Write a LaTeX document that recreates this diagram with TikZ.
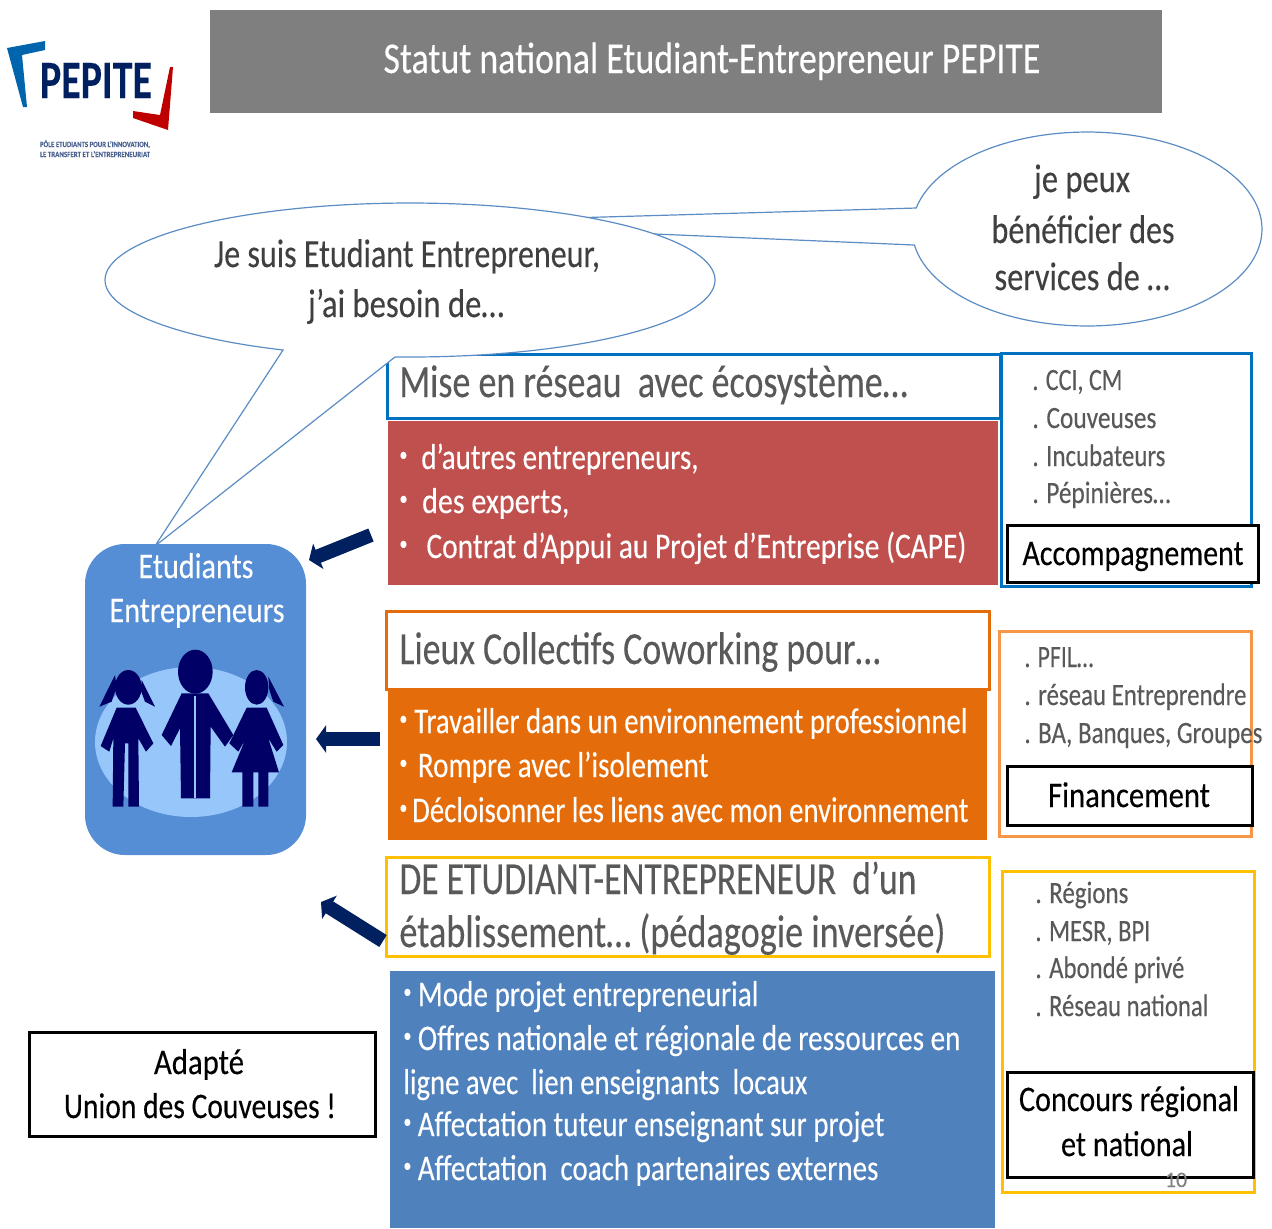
\documentclass[tikz,border=0pt]{standalone}
\usepackage{fontspec}
\setmainfont{Carlito}[FakeBold=0.25]
\usepackage{graphicx}
\usepackage{xcolor}
\usetikzlibrary{arrows.meta}
\definecolor{titlegray}{HTML}{7F7F7F}
\definecolor{textgray}{HTML}{595959}
\definecolor{bubbletext}{HTML}{404040}
\definecolor{bubbleline}{HTML}{5B8CC4}
\definecolor{netblue}{HTML}{0070C0}
\definecolor{netred}{HTML}{C0504D}
\definecolor{workorange}{HTML}{E46C0A}
\definecolor{lightorange}{HTML}{F79646}
\definecolor{classyellow}{HTML}{FFC000}
\definecolor{classblue}{HTML}{4F81BD}
\definecolor{groupblue}{HTML}{558ED5}
\definecolor{discblue}{HTML}{97C6FB}
\definecolor{figurenavy}{HTML}{000066}
\definecolor{arrownavy}{HTML}{002060}
% squeeze a text to a width given in pixels, keeping its height
\newcommand{\fitw}[2]{\resizebox{\dimexpr #1pt/2\relax}{\height}{#2}}
\newcommand{\smallbullet}{\raisebox{4pt}{\fontsize{10}{10}\selectfont •}}
\tikzset{
  title/.style={anchor=base,inner sep=0pt,text=white,font=\fontsize{22}{24}\selectfont},
  heading/.style={anchor=base west,inner sep=0pt,text=textgray,font=\fontsize{23}{25}\selectfont},
  listtext/.style={anchor=base west,inner sep=0pt,text=white,font=\fontsize{18}{20}\selectfont},
  sidetext/.style={anchor=base west,inner sep=0pt,text=textgray,font=\fontsize{15.5}{18}\selectfont},
  labeltext/.style={anchor=base,inner sep=0pt,text=black,font=\fontsize{18}{20}\selectfont},
  bubbletxt/.style={anchor=base,inner sep=0pt,text=bubbletext,font=\fontsize{20}{22}\selectfont},
  bubble/.style={draw=bubbleline,fill=white,line width=0.6pt},
  framebox/.style={fill=white,line width=1.5pt},
  blackbox/.style={draw=black,fill=white,line width=1.5pt},
  bigarrow/.style={draw=arrownavy,line width=7pt,-{Triangle[length=5pt,width=13.5pt]}},
}
\begin{document}
\begin{tikzpicture}[x=0.5pt,y=-0.5pt]
\useasboundingbox (0,0) rectangle (1272,1228);
%%%LOGO
\fill[netblue!90!black] (7,48) -- (45,41) -- (45,50) -- (22,55) -- (27,107) -- (23,107) -- cycle;
\fill[red!75!black] (170,67) -- (173,67) -- (168,130) -- (133,118) -- (133,111) -- (160,115) -- cycle;
\node[anchor=base,inner sep=0pt,text=arrownavy,font=\fontsize{27}{29}\selectfont\bfseries] (logo) at (96,98) {\fitw{112}{PEPITE}};
\node[anchor=base,inner sep=0pt,text=arrownavy!70,font=\fontsize{4}{5}\selectfont\bfseries] (logoa) at (95,147) {\fitw{110}{PÔLE ETUDIANTS POUR L’INNOVATION,}};
\node[anchor=base,inner sep=0pt,text=arrownavy!70,font=\fontsize{4}{5}\selectfont\bfseries] (logob) at (95,157) {\fitw{110}{LE TRANSFERT ET L’ENTREPRENEURIAT}};
%%%TITLE
\fill[titlegray] (210,10) rectangle (1162,113);
\node[title] (titletxt) at (712,73) {\fitw{657}{Statut national Etudiant-Entrepreneur PEPITE}};
%%%FRAME UNDER THE CALLOUT
\draw[framebox,draw=netblue] (387,354) rectangle (1000,418);
%%%CALLOUTS
\coordinate (tailright) at (395,223);
\coordinate (tailleft) at (155,546);
\draw[bubble] (tailright) -- plot[domain=192.5:530.5,samples=120] ({1087+175*cos(\x)},{229+97*sin(\x)}) -- cycle;
\draw[bubble] (tailleft) -- plot[domain=114.6:452.8,samples=160] ({410+305*cos(\x)},{280+77*sin(\x)}) -- cycle;
\node[bubbletxt] (je) at (407,267) {\fitw{386}{Je suis Etudiant Entrepreneur,}};
\node[bubbletxt] (jai) at (406,317) {\fitw{196}{j’ai besoin de…}};
\node[bubbletxt] (peux) at (1082,192) {\fitw{96}{je peux}};
\node[bubbletxt] (benef) at (1083,243) {\fitw{183}{bénéficier des}};
\node[bubbletxt] (serv) at (1082,290) {\fitw{175}{services de …}};
%%%RESEAU
\fill[netred] (388,421) rectangle (998,585);
\node[heading] (reseau) at (399,397) {\fitw{508}{Mise en réseau\ \ avec écosystème…}};
\node[listtext] (reseaua) at (399,469) {\fitw{299}{\smallbullet\hspace{0.48em}d’autres entrepreneurs,}};
\node[listtext] (reseaub) at (399,513) {\fitw{170}{\smallbullet\hspace{0.48em}des experts,}};
\node[listtext] (reseauc) at (399,558) {\fitw{567}{\smallbullet\hspace{0.64em}Contrat d’Appui au Projet d’Entreprise (CAPE)}};
\draw[framebox,draw=netblue] (1001,353) rectangle (1251,586);
\node[sidetext] (ccia) at (1032,390) {\fitw{90}{. CCI, CM}};
\node[sidetext] (ccib) at (1032,428) {\fitw{124}{. Couveuses}};
\node[sidetext] (ccic) at (1032,466) {\fitw{133}{. Incubateurs}};
\node[sidetext] (ccid) at (1032,503) {\fitw{138}{. Pépinières…}};
\node[blackbox,minimum width=125.5pt,minimum height=28.5pt,anchor=north west,inner sep=0pt] (accomp) at (1006,524) {};
\node[labeltext] (accomptxt) at (1133,565) {\fitw{221}{Accompagnement}};
%%%COWORKING
\fill[workorange] (388,689) rectangle (987,840);
\draw[framebox,draw=workorange] (386,611) rectangle (989,689);
\node[heading] (lieux) at (399,664) {\fitw{481}{Lieux Collectifs Coworking pour…}};
\node[listtext] (lieuxa) at (399,733) {\fitw{568}{\smallbullet\hspace{0.24em}Travailler dans un environnement professionnel}};
\node[listtext] (lieuxb) at (399,777) {\fitw{309}{\smallbullet\hspace{0.36em}Rompre avec l’isolement}};
\node[listtext] (lieuxc) at (399,822) {\fitw{569}{\smallbullet\hspace{0.17em}Décloisonner les liens avec mon environnement}};
\draw[framebox,draw=lightorange] (999,631) rectangle (1251,836);
\node[sidetext] (pfila) at (1024,667) {\fitw{69}{. PFIL…}};
\node[sidetext] (pfilb) at (1024,705) {\fitw{222}{. réseau Entreprendre}};
\node[sidetext] (pfilc) at (1024,743) {\fitw{238}{. BA, Banques, Groupes}};
\node[blackbox,minimum width=122.5pt,minimum height=29.5pt,anchor=north west,inner sep=0pt] (finance) at (1006,765) {};
\node[labeltext] (financetxt) at (1129,807) {\fitw{162}{Financement}};
%%%ETABLISSEMENT
\draw[framebox,draw=classyellow] (386,857) rectangle (989,956);
\node[heading] (etuda) at (399,894) {\fitw{517}{DE ETUDIANT-ENTREPRENEUR\ \ d’un}};
\node[heading] (etudb) at (399,947) {\fitw{546}{établissement… (pédagogie inversée)}};
\fill[classblue] (390,971) rectangle (995,1228);
\node[listtext] (moda) at (403,1006) {\fitw{355}{\smallbullet\hspace{0.22em}Mode projet entrepreneurial}};
\node[listtext] (modb) at (403,1050) {\fitw{557}{\smallbullet\hspace{0.22em}Offres nationale et régionale de ressources en}};
\node[listtext] (modc) at (403,1094) {\fitw{404}{ligne avec\ \ lien enseignants\ \ locaux}};
\node[listtext] (modd) at (403,1136) {\fitw{481}{\smallbullet\hspace{0.22em}Affectation tuteur enseignant sur projet}};
\node[listtext] (mode) at (403,1180) {\fitw{475}{\smallbullet\hspace{0.22em}Affectation\ \ coach partenaires externes}};
\draw[framebox,draw=classyellow] (1002,871) rectangle (1254,1192);
\node[sidetext] (rega) at (1035,903) {\fitw{93}{. Régions}};
\node[sidetext] (regb) at (1035,941) {\fitw{115}{. MESR, BPI}};
\node[sidetext] (regc) at (1035,978) {\fitw{149}{. Abondé privé}};
\node[sidetext] (regd) at (1035,1016) {\fitw{173}{. Réseau national}};
\node[blackbox,minimum width=123pt,minimum height=52.5pt,anchor=north west,inner sep=0pt] (concours) at (1006,1071) {};
\node[labeltext] (concoursa) at (1129,1111) {\fitw{220}{Concours régional}};
\node[labeltext] (concoursb) at (1127,1156) {\fitw{132}{et national}};
\node[anchor=base,inner sep=0pt,text=gray,font=\fontsize{11}{12}\selectfont] (pagenum) at (1176,1187) {10};
%%%ADAPTE
\node[blackbox,minimum width=173pt,minimum height=52pt,anchor=north west,inner sep=0pt] (adapte) at (28,1031) {};
\node[labeltext] (adaptea) at (199,1074) {\fitw{90}{Adapté}};
\node[labeltext] (adapteb) at (200,1118) {\fitw{272}{Union des Couveuses !}};
%%%STUDENTS
\fill[groupblue,rounded corners=20pt] (85,544) rectangle (306,855);
\node[anchor=base,inner sep=0pt,text=white,font=\fontsize{18}{20}\selectfont] (etudiants) at (196,578) {\fitw{115}{Etudiants}};
\node[anchor=base,inner sep=0pt,text=white,font=\fontsize{18}{20}\selectfont] (entrep) at (197,622) {\fitw{175}{Entrepreneurs}};
\fill[discblue] (191,742) ellipse [x radius=96pt/2,y radius=75pt/2];
\begin{scope}[shift={(70,530)},scale=1/3,figurenavy]
%left girl
\fill (175,472) ellipse [x radius=20pt,y radius=26pt];
\fill (135,435) -- (88,530) -- (125,515) -- (140,470) -- cycle;
\fill (215,450) -- (255,530) -- (225,515) -- (212,480) -- cycle;
\fill (140,533) -- (92,648) -- (118,665) -- (130,625) -- (128,830) -- (160,830) -- (165,640) -- (175,640) -- (175,830) -- (207,830) -- (205,625) -- (228,665) -- (250,640) -- (197,533) -- cycle;
%man
\fill (376,425) ellipse [x radius=26pt,y radius=33pt];
\fill (335,490) -- (415,490) -- (490,615) -- (465,650) -- (422,590) -- (420,805) -- (333,805) -- (330,595) -- (303,648) -- (275,615) -- cycle;
\draw[discblue,line width=1pt] (376,498) -- (376,805);
%right girl
\fill (560,472) ellipse [x radius=17.5pt,y radius=26pt];
\fill (595,440) -- (642,530) -- (610,515) -- (598,480) -- cycle;
\fill (530,533) -- (590,533) -- (640,645) -- (620,665) -- (595,625) -- (627,727) -- (595,727) -- (595,830) -- (565,830) -- (565,727) -- (550,727) -- (550,830) -- (517,830) -- (517,727) -- (485,727) -- (525,630) -- (505,665) -- (478,640) -- cycle;
\end{scope}
%%%ARROWS
\coordinate (arrowas) at (371,535);
\coordinate (arrowae) at (309,560);
\coordinate (arrowbs) at (380,739);
\coordinate (arrowbe) at (316,739);
\coordinate (arrowcs) at (383,941);
\coordinate (arrowce) at (321,902);
\draw[bigarrow] (arrowas) -- (arrowae);
\draw[bigarrow] (arrowbs) -- (arrowbe);
\draw[bigarrow] (arrowcs) -- (arrowce);
\end{tikzpicture}
\end{document}
